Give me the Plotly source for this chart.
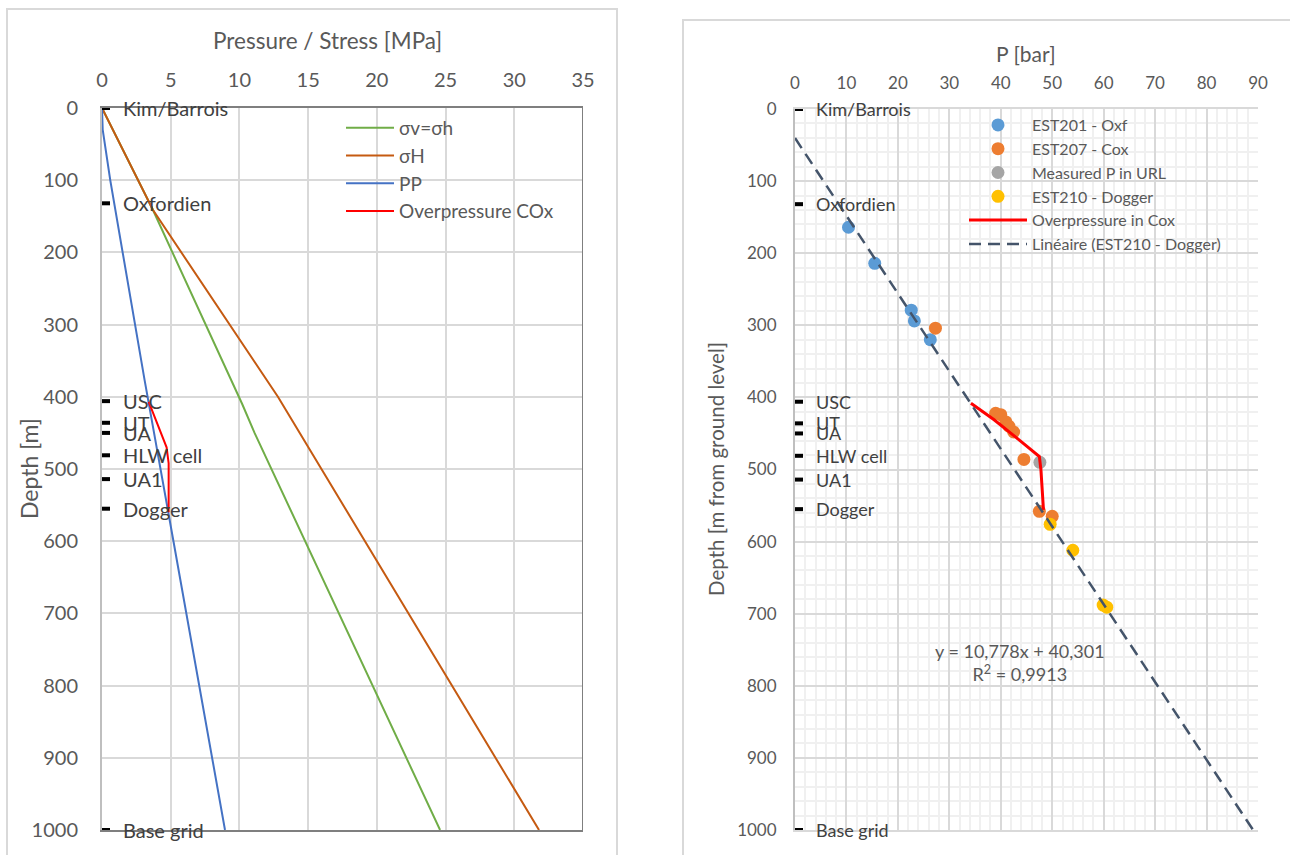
import plotly.graph_objects as go

W, H = 1290, 855

# ---------------- Left chart data (Pressure / Stress [MPa] vs depth [m]) -------------
sv_depth = [0, 141, 410, 450, 1000]
sv_val = [0, 3.7, 10.2, 11.1, 24.6]

sH_depth = [0, 141, 400, 1000]
sH_val = [0, 3.7, 12.8, 31.8]

pp_depth = [0, 30, 100, 377, 600, 1000]
pp_val = [0, 0.05, 0.6, 3.1, 5.2, 8.95]

op_depth = [407, 470, 492, 560]
op_val = [3.4, 4.7, 4.85, 4.85]

# formation markers (shared by both charts)
form_names = ["Kim/Barrois", "Oxfordien", "USC", "UT", "UA", "HLW cell", "UA1", "Dogger", "Base grid"]
form_depths = [0, 132, 406, 436, 450, 481, 514, 555, 1000]

# ---------------- Right chart data (P [bar] vs depth [m]) -------------
oxf_p = [10.4, 15.5, 22.6, 23.2, 26.3]
oxf_d = [164, 214, 279, 294, 320]

cox_p = [27.3, 39.0, 40.0, 41.0, 41.6, 42.5, 44.5, 47.5, 50.0]
cox_d = [304, 422, 424, 434, 440, 448, 486, 558, 565]

url_p = [47.6]
url_d = [490]

dog_p = [49.6, 54.0, 59.9, 60.6]
dog_d = [576, 612, 688, 691]

opc_p = [34.2, 38.7, 42.9, 47.5, 47.8, 48.3]
opc_d = [408, 431, 455, 482, 500, 556]

trend_slope = 10.778
trend_icpt = 40.301
trend_r2 = 0.9913
trend_p = [0, (1000 - trend_icpt) / trend_slope]
trend_d = [trend_slope * p + trend_icpt for p in trend_p]

FONT = "Lato"
TXT = "#595959"
LBL = "#404040"
GRID = "#d9d9d9"

fig = go.Figure()

# left chart traces
fig.add_trace(go.Scatter(x=sv_val, y=sv_depth, mode="lines", name="σv=σh",
                         line=dict(color="#70ad47", width=2), xaxis="x", yaxis="y", legend="legend"))
fig.add_trace(go.Scatter(x=sH_val, y=sH_depth, mode="lines", name="σH",
                         line=dict(color="#c55a11", width=2), xaxis="x", yaxis="y", legend="legend"))
fig.add_trace(go.Scatter(x=pp_val, y=pp_depth, mode="lines", name="PP",
                         line=dict(color="#4472c4", width=2), xaxis="x", yaxis="y", legend="legend"))
fig.add_trace(go.Scatter(x=op_val, y=op_depth, mode="lines", name="Overpressure COx",
                         line=dict(color="#ff0000", width=2), xaxis="x", yaxis="y", legend="legend"))

# right chart traces
mk = dict(size=13)
fig.add_trace(go.Scatter(x=oxf_p, y=oxf_d, mode="markers", name="EST201 - Oxf",
                         marker=dict(color="#5b9bd5", **mk), xaxis="x2", yaxis="y2", legend="legend2"))
fig.add_trace(go.Scatter(x=cox_p, y=cox_d, mode="markers", name="EST207 - Cox",
                         marker=dict(color="#ed7d31", **mk), xaxis="x2", yaxis="y2", legend="legend2"))
fig.add_trace(go.Scatter(x=url_p, y=url_d, mode="markers", name="Measured P in URL",
                         marker=dict(color="#a5a5a5", **mk), xaxis="x2", yaxis="y2", legend="legend2"))
fig.add_trace(go.Scatter(x=dog_p, y=dog_d, mode="markers", name="EST210 - Dogger",
                         marker=dict(color="#ffc000", **mk), xaxis="x2", yaxis="y2", legend="legend2"))
fig.add_trace(go.Scatter(x=opc_p, y=opc_d, mode="lines", name="Overpressure in Cox",
                         line=dict(color="#ff0000", width=3), xaxis="x2", yaxis="y2", legend="legend2"))
fig.add_trace(go.Scatter(x=trend_p, y=trend_d, mode="lines", name="Linéaire (EST210 - Dogger)",
                         line=dict(color="#44546a", width=2.5, dash="12px,7px"),
                         xaxis="x2", yaxis="y2", legend="legend2"))

def px_x(v):
    return v / W

def px_y(v):
    return 1 - v / H

axis_common = dict(ticks="", zeroline=False, showgrid=True, gridcolor=GRID, gridwidth=2)

fig.update_layout(
    width=W, height=H,
    margin=dict(l=0, r=0, t=0, b=0, pad=0, autoexpand=False),
    paper_bgcolor="white", plot_bgcolor="white",
    font=dict(family=FONT, color=TXT),
    xaxis=dict(domain=[px_x(102), px_x(583)], anchor="y", side="top", range=[0, 35], dtick=5,
               showline=True, linecolor="#7f7f7f", linewidth=2, mirror=True,
               tickfont=dict(size=20, color=TXT), ticklabelstandoff=11, **axis_common),
    yaxis=dict(domain=[px_y(830), px_y(108)], anchor="x", range=[1000, 0], dtick=100,
               showline=True, linecolor="#bfbfbf", linewidth=2,
               tickfont=dict(size=20, color=TXT), ticklabelstandoff=18, **axis_common),
    xaxis2=dict(domain=[px_x(795), px_x(1258)], anchor="y2", side="top", range=[0, 90], dtick=10,
                showline=True, linecolor=GRID, linewidth=2, mirror=True,
                minor=dict(dtick=2, showgrid=True, gridcolor="#f0f0f0", gridwidth=2),
                tickfont=dict(size=17, color=TXT), ticklabelstandoff=11, **axis_common),
    yaxis2=dict(domain=[px_y(830), px_y(109)], anchor="x2", range=[1000, 0], dtick=100,
                showline=True, linecolor="#bfbfbf", linewidth=2,
                minor=dict(dtick=20, showgrid=True, gridcolor="#f0f0f0", gridwidth=2),
                tickfont=dict(size=17, color=TXT), ticklabelstandoff=13, **axis_common),
    legend=dict(x=px_x(341), y=px_y(109), xanchor="left", yanchor="top",
                bgcolor="rgba(0,0,0,0)", font=dict(size=19, color=TXT),
                itemwidth=48, tracegroupgap=0),
    legend2=dict(x=px_x(964), y=px_y(108), xanchor="left", yanchor="top",
                 bgcolor="rgba(0,0,0,0)", font=dict(size=16, color=TXT),
                 itemwidth=58, tracegroupgap=0),
    showlegend=True,
)

shapes = [
    # outer chart frames
    dict(type="rect", xref="paper", yref="paper", x0=px_x(7), x1=px_x(617), y0=px_y(870), y1=px_y(9),
         line=dict(color=GRID, width=2), layer="below"),
    dict(type="rect", xref="paper", yref="paper", x0=px_x(683), x1=px_x(1300), y0=px_y(870), y1=px_y(20),
         line=dict(color=GRID, width=2), layer="below"),
    # left plot right border
    dict(type="line", xref="x", yref="y domain", x0=35, x1=35, y0=0, y1=1,
         line=dict(color="#7f7f7f", width=2)),
]
annotations = []
for xr, yr, fs in (("x", "y", 20), ("x2", "y2", 18)):
    for name, d in zip(form_names, form_depths):
        shapes.append(dict(type="line", xref=xr, yref=yr, xsizemode="pixel", xanchor=0,
                           x0=0, x1=8, y0=d, y1=d, line=dict(color="black", width=4)))
        annotations.append(dict(text=name, xref=xr, yref=yr, x=0, y=d, xanchor="left", yanchor="middle",
                                xshift=19, showarrow=False, font=dict(size=fs, color=LBL)))

# axis titles
annotations += [
    dict(text="Pressure / Stress [MPa]", xref="paper", yref="paper", x=px_x(327), y=px_y(40),
         xanchor="center", yanchor="middle", showarrow=False, font=dict(size=22.5, color=TXT)),
    dict(text="Depth [m]", xref="paper", yref="paper", x=px_x(29), y=px_y(469), textangle=-90,
         xanchor="center", yanchor="middle", showarrow=False, font=dict(size=23, color=TXT)),
    dict(text="P [bar]", xref="paper", yref="paper", x=px_x(1026), y=px_y(53),
         xanchor="center", yanchor="middle", showarrow=False, font=dict(size=21, color=TXT)),
    dict(text="Depth [m from ground level]", xref="paper", yref="paper", x=px_x(716), y=px_y(469),
         textangle=-90, xanchor="center", yanchor="middle", showarrow=False, font=dict(size=20.5, color=TXT)),
    dict(text=f"y = {str(trend_slope).replace('.', ',')}x + {str(trend_icpt).replace('.', ',')}"
              f"<br>R<sup>2</sup> = {str(trend_r2).replace('.', ',')}",
         xref="paper", yref="paper", x=px_x(1020), y=px_y(662), xanchor="center", yanchor="middle",
         showarrow=False, align="center", font=dict(size=18, color=TXT)),
]

fig.update_layout(shapes=shapes, annotations=annotations)
fig.write_html("out.html")
